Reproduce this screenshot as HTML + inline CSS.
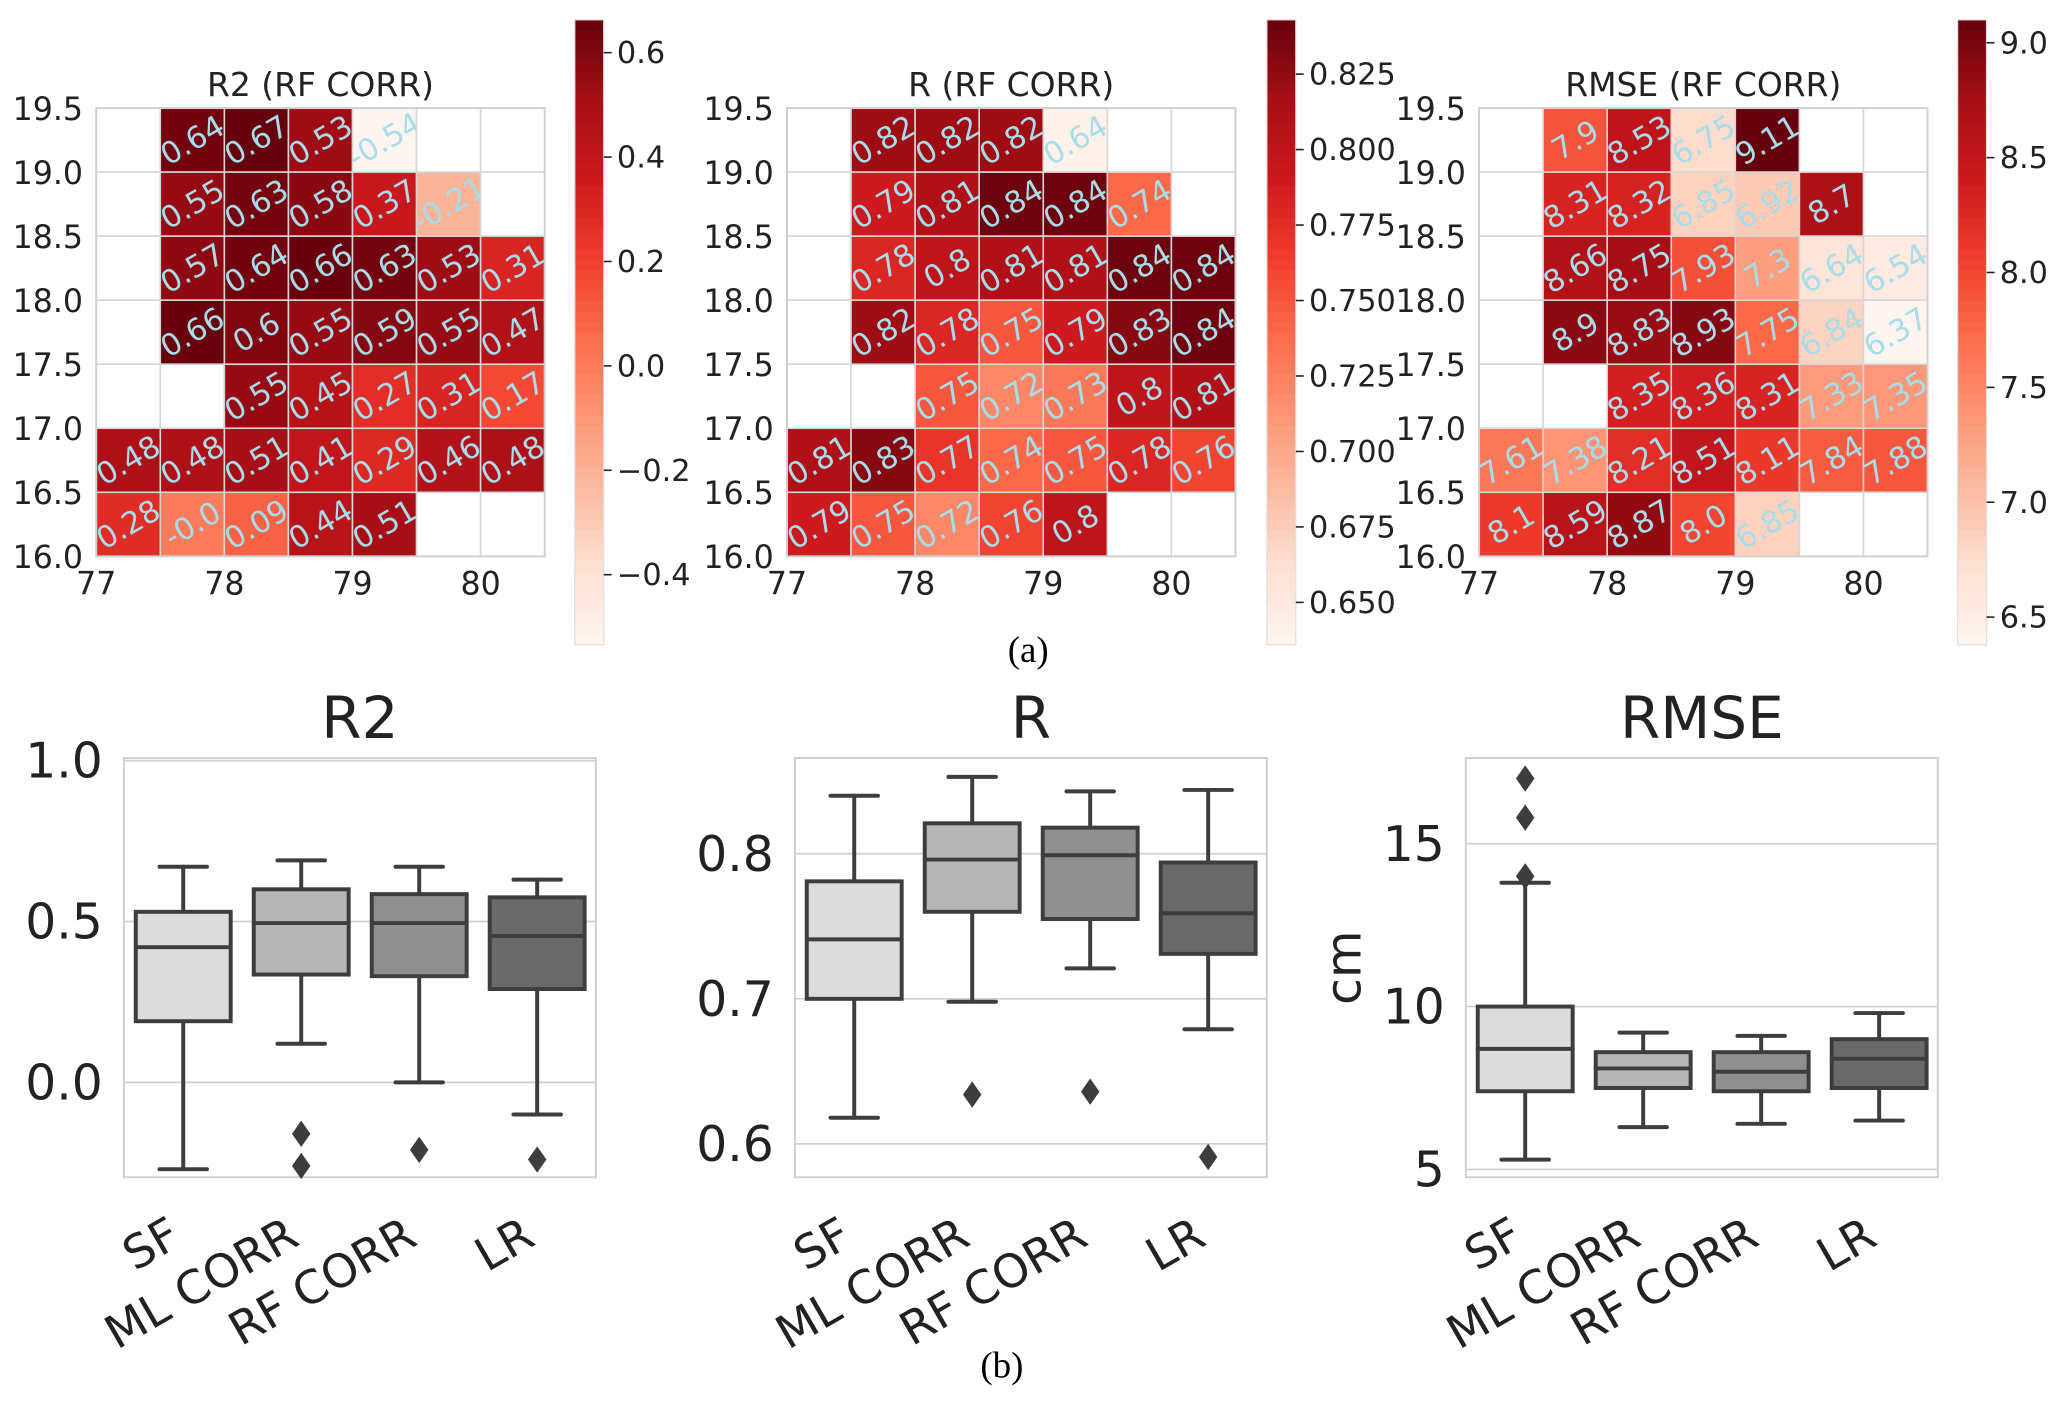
<!DOCTYPE html>
<html><head><meta charset="utf-8">
<style>
html,body{margin:0;padding:0;background:#fff;}
svg{display:block;}
text{font-family:"DejaVu Sans","Liberation Sans",sans-serif;}
</style></head>
<body>
<svg id="fig" width="2067" height="1404" viewBox="0 0 1568 1065" preserveAspectRatio="none" xmlns="http://www.w3.org/2000/svg">
<rect width="1568" height="1065" fill="#fff"/>
<text x="780" y="502" font-size="28" text-anchor="middle" style="font-family:'Liberation Serif',serif">(a)</text>
<text x="760" y="1045" font-size="28" text-anchor="middle" style="font-family:'Liberation Serif',serif">(b)</text>
</svg>
<script>
// ---------- Heatmap data (rows top 19.5 -> bottom 16.0, cols 77 -> 80.5), null = empty ----------
const lonTicks = [77,78,79,80];
const latTicks = [16.0,16.5,17.0,17.5,18.0,18.5,19.0,19.5];
const r2Grid = [
 [null,0.64,0.67,0.53,-0.54,null,null],
 [null,0.55,0.63,0.58,0.37,-0.21,null],
 [null,0.57,0.64,0.66,0.63,0.53,0.31],
 [null,0.66,0.6,0.55,0.59,0.55,0.47],
 [null,null,0.55,0.45,0.27,0.31,0.17],
 [0.48,0.48,0.51,0.41,0.29,0.46,0.48],
 [0.28,-0.0,0.09,0.44,0.51,null,null]
];
const rGrid = [
 [null,0.82,0.82,0.82,0.64,null,null],
 [null,0.79,0.81,0.84,0.84,0.74,null],
 [null,0.78,0.8,0.81,0.81,0.84,0.84],
 [null,0.82,0.78,0.75,0.79,0.83,0.84],
 [null,null,0.75,0.72,0.73,0.8,0.81],
 [0.81,0.83,0.77,0.74,0.75,0.78,0.76],
 [0.79,0.75,0.72,0.76,0.8,null,null]
];
const rmseGrid = [
 [null,7.9,8.53,6.75,9.11,null,null],
 [null,8.31,8.32,6.85,6.92,8.7,null],
 [null,8.66,8.75,7.93,7.3,6.64,6.54],
 [null,8.9,8.83,8.93,7.75,6.84,6.37],
 [null,null,8.35,8.36,8.31,7.33,7.35],
 [7.61,7.38,8.21,8.51,8.11,7.84,7.88],
 [8.1,8.59,8.87,8.0,6.85,null,null]
];
const r2CbarTicks = [0.6,0.4,0.2,0.0,-0.2,-0.4];
const rCbarTicks = [0.825,0.8,0.775,0.75,0.725,0.7,0.675,0.65];
const rmseCbarTicks = [9.0,8.5,8.0,7.5,7.0,6.5];

// ---------- Box plot data ----------
const boxCats = ["SF","ML CORR","RF CORR","LR"];
const r2Box = [[-0.27,0.19,0.42,0.53,0.67],[0.12,0.335,0.495,0.6,0.69],[0.0,0.33,0.495,0.585,0.67],[-0.1,0.29,0.455,0.575,0.63]];
const r2Out = [[],[-0.16,-0.26],[-0.21],[-0.24]];
const rBox = [[0.618,0.7,0.741,0.781,0.84],[0.698,0.76,0.796,0.821,0.853],[0.721,0.755,0.799,0.818,0.843],[0.679,0.731,0.759,0.794,0.844]];
const rOut = [[],[0.634],[0.636],[0.591]];
const rmseBox = [[5.3,7.4,8.7,10.0,13.8],[6.3,7.5,8.1,8.6,9.2],[6.4,7.4,8.0,8.6,9.1],[6.5,7.5,8.4,9.0,9.8]];
const rmseOut = [[14.0,15.8,17.0],[],[],[]];
const r2Ticks = [0.0,0.5,1.0];
const rTicks = [0.6,0.7,0.8];
const rmseTicks = [5,10,15];

const NS = "http://www.w3.org/2000/svg";
const svg = document.getElementById('fig');
function mk(tag, attrs, parent){ const e=document.createElementNS(NS,tag); for(const k in attrs) e.setAttribute(k,attrs[k]); (parent||svg).appendChild(e); return e; }

const REDS = ["#fff5f0","#fee0d2","#fcbba1","#fc9272","#fb6a4a","#ef3b2c","#cb181d","#a50f15","#67000d"];
function hex2rgb(h){return [parseInt(h.slice(1,3),16),parseInt(h.slice(3,5),16),parseInt(h.slice(5,7),16)];}
function reds(t){ t=Math.max(0,Math.min(1,t)); const p=t*(REDS.length-1); const i=Math.min(Math.floor(p),REDS.length-2); const f=p-i; const a=hex2rgb(REDS[i]), b=hex2rgb(REDS[i+1]); return "rgb("+a.map((v,k)=>Math.round(v+(b[k]-v)*f)).join(",")+")"; }
function fmtVal(v){ if(Object.is(v,-0)) return "-0.0"; const s=String(v); return s.indexOf('.')<0 ? s+".0" : s; }

function heatmap(cfg){
  const g = mk('g',{});
  
  
  const x0=cfg.x77, dx=97.2; const yTop=82, yBot=422;
  const xs = lon => x0 + (lon-77)*dx;
  const ys = lat => yBot - (lat-16)*(yBot-yTop)/3.5;
  const norm = v => (v-cfg.vmin)/(cfg.vmax-cfg.vmin);
  for(let r=0;r<7;r++) for(let c=0;c<7;c++){
    const v = cfg.grid[r][c];
    const cx = xs(77+c*0.5), cy = ys(19.5-r*0.5);
    const w = dx/2, h=(yBot-yTop)/7;
    const cell = mk('rect',{x:cx,y:cy,width:w,height:h,fill: v===null?'#fff':reds(norm(v)),stroke:'#d6d6d6','stroke-width':1.2},g);
    
    
    if(v!==null){
      const t = mk('text',{x:cx+w/2,y:cy+h/2+8,'font-size':23,fill:'#a8dcea','text-anchor':'middle',transform:`rotate(-30 ${cx+w/2} ${cy+h/2})`},g);
      t.textContent = fmtVal(v);
      
      
    }
  }
  mk('rect',{x:xs(77),y:yTop,width:dx*3.5,height:yBot-yTop,fill:'none',stroke:'#d0d0d0','stroke-width':1.5},g);
  const title = mk('text',{x:xs(78.75),y:73,'font-size':25,'text-anchor':'middle',fill:'#222'},g);
  title.textContent = cfg.title;
  
  
  lonTicks.forEach(l=>{ const t=mk('text',{x:xs(l),y:451,'font-size':24,'text-anchor':'middle',fill:'#222'},g); t.textContent=l;
      });
  latTicks.forEach(l=>{ const t=mk('text',{x:xs(77)-10,y:ys(l)+9,'font-size':24,'text-anchor':'end',fill:'#222'},g); t.textContent=l.toFixed(1);
      });
  const cb = mk('g',{},g);
  
  
  const cbTop=15, cbBot=489, N=60;
  for(let i=0;i<N;i++){ mk('rect',{x:cfg.cbx,y:cbTop+(cbBot-cbTop)*i/N,width:22,height:(cbBot-cbTop)/N+0.6,fill:reds(1-(i+0.5)/N)},cb); }
  mk('rect',{x:cfg.cbx,y:cbTop,width:22,height:cbBot-cbTop,fill:'none',stroke:'#e0e0e0','stroke-width':1},cb);
  const cbY = v => cbBot - (v-cfg.vmin)/(cfg.vmax-cfg.vmin)*(cbBot-cbTop);
  cfg.cbTicks.forEach(v=>{ const y=cbY(v); mk('line',{x1:cfg.cbx+22,x2:cfg.cbx+28,y1:y,y2:y,stroke:'#222','stroke-width':1.2},cb);
    const t=mk('text',{x:cfg.cbx+32,y:y+8,'font-size':23,fill:'#222'},cb); t.textContent = (v<0?'\u2212'+Math.abs(v).toFixed(cfg.dec):v.toFixed(cfg.dec));
      });
}
heatmap({name:'heatmap-r2',title:'R2 (RF CORR)',x77:73,grid:r2Grid,vmin:-0.534,vmax:0.663,cbx:436,cbTicks:r2CbarTicks,dec:1});
heatmap({name:'heatmap-r',title:'R (RF CORR)',x77:597,grid:rGrid,vmin:0.636,vmax:0.843,cbx:961,cbTicks:rCbarTicks,dec:3});
heatmap({name:'heatmap-rmse',title:'RMSE (RF CORR)',x77:1122,grid:rmseGrid,vmin:6.38,vmax:9.10,cbx:1485,cbTicks:rmseCbarTicks,dec:1});

const FILLS = ["#dcdcdc","#b6b6b6","#8f8f8f","#696969"];
function boxplot(cfg){
  const g = mk('g',{});
  
  
  const L=cfg.x, R=cfg.x+358, T=575, B=893;
  const ys = v => B - (v-cfg.ymin)/(cfg.ymax-cfg.ymin)*(B-T);
  const xc = i => L + 45 + i*89.5;
  cfg.ticks.forEach(v=>{ const y=ys(v); mk('line',{x1:L,x2:R,y1:y,y2:y,stroke:'#cfcfcf','stroke-width':1.3},g);
    const t=mk('text',{x:L-16,y:y+13,'font-size':37,'text-anchor':'end',fill:'#222'},g); t.textContent = cfg.fmt(v);
      });
  mk('rect',{x:L,y:T,width:358,height:B-T,fill:'none',stroke:'#cfcfcf','stroke-width':1.5},g);
  const tt=mk('text',{x:(L+R)/2,y:560,'font-size':44,'text-anchor':'middle',fill:'#222'},g); tt.textContent=cfg.title;
   
  if(cfg.ylabel){ const t=mk('text',{x:L-80,y:(T+B)/2,'font-size':37,'text-anchor':'middle',fill:'#222',transform:`rotate(-90 ${L-80} ${(T+B)/2})`},g); t.textContent=cfg.ylabel;
      }
  cfg.data.forEach((d,i)=>{
    const cx=xc(i), hw=36;
    const bg = mk('g',{},g);
    
    
    const st={stroke:'#3d3d3d','stroke-width':3,'stroke-linecap':'round'};
    mk('line',Object.assign({x1:cx,x2:cx,y1:ys(d[0]),y2:ys(d[1])},st),bg);
    mk('line',Object.assign({x1:cx,x2:cx,y1:ys(d[3]),y2:ys(d[4])},st),bg);
    mk('line',Object.assign({x1:cx-18,x2:cx+18,y1:ys(d[0]),y2:ys(d[0])},st),bg);
    mk('line',Object.assign({x1:cx-18,x2:cx+18,y1:ys(d[4]),y2:ys(d[4])},st),bg);
    mk('rect',{x:cx-hw,y:ys(d[3]),width:hw*2,height:ys(d[1])-ys(d[3]),fill:FILLS[i],stroke:'#3d3d3d','stroke-width':3},bg);
    mk('line',Object.assign({x1:cx-hw,x2:cx+hw,y1:ys(d[2]),y2:ys(d[2])},st),bg);
    cfg.out[i].forEach(o=>{ const y=ys(o); const p=mk('polygon',{points:`${cx},${y-10} ${cx+7},${y} ${cx},${y+10} ${cx-7},${y}`,fill:'#3d3d3d'},bg);
        });
    const lx=cx-6, ly=B+40;
    const t=mk('text',{x:lx,y:ly+12,'font-size':35,'text-anchor':'end',fill:'#222',transform:`rotate(-30 ${lx} ${ly})`},g); t.textContent=boxCats[i];
     
  });
}
boxplot({name:'boxplot-r2',title:'R2',x:94,ymin:-0.295,ymax:1.008,ticks:r2Ticks,data:r2Box,out:r2Out,fmt:v=>v.toFixed(1)});
boxplot({name:'boxplot-r',title:'R',x:603,ymin:0.577,ymax:0.866,ticks:rTicks,data:rBox,out:rOut,fmt:v=>v.toFixed(1)});
boxplot({name:'boxplot-rmse',title:'RMSE',x:1112,ymin:4.76,ymax:17.63,ticks:rmseTicks,data:rmseBox,out:rmseOut,fmt:v=>String(v),ylabel:'cm'});
</script>
</body></html>
